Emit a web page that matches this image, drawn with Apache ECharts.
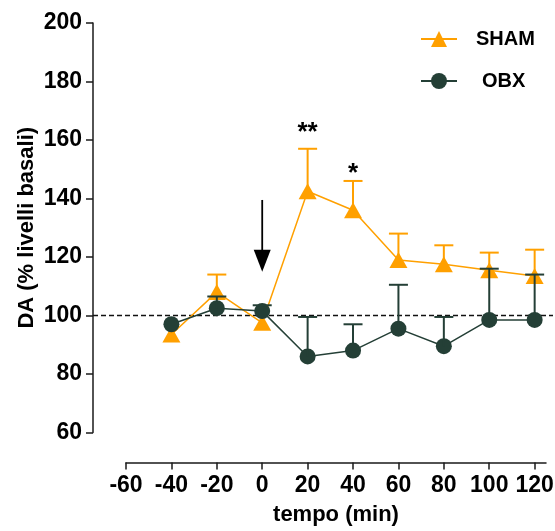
<!DOCTYPE html>
<html>
<head>
<meta charset="utf-8">
<script src="https://cdn.jsdelivr.net/npm/echarts@6/dist/echarts.min.js"></script>
<style>
  html, body { margin: 0; padding: 0; background: #fff; }
  #chart { width: 555px; height: 531px; }
</style>
</head>
<body>
<div id="chart"></div>
<script>
// Sampling times (min) relative to the injection
const timePoints = [-40, -20, 0, 20, 40, 60, 80, 100, 120];

// DA as % of basal levels: mean and SEM per group
const shamMean = [93.5, 108, 97.5, 142.5, 136, 119, 117.5, 115.5, 113.5];
const shamSem  = [0, 6, 0, 14.5, 10, 9, 6.5, 6, 9];
const obxMean  = [97, 102.5, 101.5, 86, 88, 95.5, 89.5, 98.5, 98.5];
const obxSem   = [0, 4, 2, 13.5, 9, 15, 10, 17.5, 15.5];

// Axis ticks
const xTicks = [-60, -40, -20, 0, 20, 40, 60, 80, 100, 120];
const yTicks = [60, 80, 100, 120, 140, 160, 180, 200];

// Basal reference level and injection arrow (time, start value, tip value)
const baseline = 100;
const injection = [[0, 139.5, 115]];

// Significance marks: time, value, text
const significance = [[20, 162.5, '**'], [40, 148.5, '*']];

const FONT = "'Liberation Sans', Arial, sans-serif";
const ORANGE = '#FFA000';
const GREEN = '#243F36';
const AXIS = '#1a1a1a';

function errorBars(name, means, sems, color, z) {
  return {
    type: 'custom',
    name: name,
    xAxisIndex: 0, yAxisIndex: 0,
    z: z,
    silent: true,
    data: timePoints.map((t, i) => [t, means[i], means[i] + sems[i]]),
    encode: { x: 0, y: [1, 2] },
    renderItem(params, api) {
      const lo = api.value(1), hi = api.value(2);
      if (!(hi > lo)) return null;
      const p0 = api.coord([api.value(0), lo]);
      const p1 = api.coord([api.value(0), hi]);
      const hw = 9.5;
      return {
        type: 'group',
        children: [
          { type: 'line', shape: { x1: p0[0], y1: p0[1], x2: p1[0], y2: p1[1] },
            style: { stroke: color, lineWidth: 2 } },
          { type: 'line', shape: { x1: p1[0] - hw, y1: p1[1], x2: p1[0] + hw, y2: p1[1] },
            style: { stroke: color, lineWidth: 2 } }
        ]
      };
    }
  };
}

const chart = echarts.init(document.getElementById('chart'), null, { renderer: 'canvas' });

chart.setOption({
  backgroundColor: '#fff',
  animation: false,
  grid: [
    { left: 126, right: 9, top: 23, bottom: 98.5, containLabel: false, outerBoundsMode: 'none' },
    { left: 93, right: 2, top: 23, bottom: 98.5, containLabel: false, outerBoundsMode: 'none' }
  ],
  legend: [
    {
      data: ['SHAM'], left: 420, top: 29, padding: 0,
      itemWidth: 36, itemHeight: 20,
      textStyle: { fontFamily: FONT, fontSize: 20, fontWeight: 'bold', color: '#000', padding: [0, 0, 0, 14] }
    },
    {
      data: ['OBX'], left: 420, top: 71, padding: 0,
      itemWidth: 36, itemHeight: 20,
      textStyle: { fontFamily: FONT, fontSize: 20, fontWeight: 'bold', color: '#000', padding: [0, 0, 0, 20] }
    }
  ],
  xAxis: [
    {
      type: 'value', gridIndex: 0, min: -60, max: 125, interval: 20, offset: 30,
      axisLine: { show: true, onZero: false, lineStyle: { color: AXIS, width: 1.5 } },
      axisTick: { show: true, length: 7, customValues: xTicks, lineStyle: { color: AXIS, width: 1.5 } },
      axisLabel: { customValues: xTicks, margin: 12, color: '#000', fontFamily: FONT, fontSize: 23, fontWeight: 'bold' },
      splitLine: { show: false },
      name: 'tempo (min)', nameLocation: 'middle', nameGap: 41, nameMoveOverlap: false,
      nameTextStyle: { fontFamily: FONT, fontSize: 22, fontWeight: 'bold', color: '#000' }
    },
    { type: 'value', gridIndex: 1, min: 0, max: 1, show: false }
  ],
  yAxis: [
    {
      type: 'value', gridIndex: 0, min: 60, max: 200, interval: 20, offset: 33,
      axisLine: { show: true, onZero: false, lineStyle: { color: AXIS, width: 1.5 } },
      axisTick: { show: true, length: 7, customValues: yTicks, lineStyle: { color: AXIS, width: 1.5 } },
      axisLabel: { customValues: yTicks, margin: 11, color: '#000', fontFamily: FONT, fontSize: 23, fontWeight: 'bold' },
      splitLine: { show: false },
      name: 'DA (% livelli basali)', nameLocation: 'middle', nameGap: 55, nameRotate: 90, nameMoveOverlap: false,
      nameTextStyle: { fontFamily: FONT, fontSize: 22, fontWeight: 'bold', color: '#000' }
    },
    { type: 'value', gridIndex: 1, min: 60, max: 200, show: false }
  ],
  series: [
    {
      name: 'baseline', type: 'line', xAxisIndex: 1, yAxisIndex: 1, z: 1, silent: true,
      data: [[0, baseline], [1, baseline]], symbol: 'none',
      lineStyle: { color: '#111', width: 1.5, type: [5, 3] }
    },
    {
      name: 'SHAM', type: 'line', xAxisIndex: 0, yAxisIndex: 0, z: 2,
      data: timePoints.map((t, i) => [t, shamMean[i]]),
      symbol: 'triangle', symbolSize: [18, 16],
      itemStyle: { color: ORANGE },
      lineStyle: { color: ORANGE, width: 1.5 }
    },
    errorBars('SHAM SEM', shamMean, shamSem, ORANGE, 3),
    {
      name: 'OBX', type: 'line', xAxisIndex: 0, yAxisIndex: 0, z: 4,
      data: timePoints.map((t, i) => [t, obxMean[i]]),
      symbol: 'circle', symbolSize: 16,
      itemStyle: { color: GREEN },
      lineStyle: { color: GREEN, width: 1.5 }
    },
    errorBars('OBX SEM', obxMean, obxSem, GREEN, 5),
    {
      name: 'injection', type: 'custom', xAxisIndex: 0, yAxisIndex: 0, z: 6, silent: true,
      data: injection,
      encode: { x: 0, y: [1, 2] },
      renderItem(params, api) {
        const top = api.coord([api.value(0), api.value(1)]);
        const tip = api.coord([api.value(0), api.value(2)]);
        const headLen = 22, headHalf = 8.5;
        return {
          type: 'group',
          children: [
            { type: 'line', shape: { x1: top[0], y1: top[1], x2: tip[0], y2: tip[1] - headLen + 2 },
              style: { stroke: '#000', lineWidth: 1.8 } },
            { type: 'polygon',
              shape: { points: [[tip[0] - headHalf, tip[1] - headLen], [tip[0] + headHalf, tip[1] - headLen], [tip[0], tip[1]]] },
              style: { fill: '#000' } }
          ]
        };
      }
    },
    {
      name: 'significance', type: 'custom', xAxisIndex: 0, yAxisIndex: 0, z: 6, silent: true,
      data: significance,
      encode: { x: 0, y: 1 },
      renderItem(params, api) {
        const p = api.coord([api.value(0), api.value(1)]);
        return {
          type: 'text', x: p[0], y: p[1],
          style: {
            text: significance[params.dataIndex][2],
            font: "bold 26px 'Liberation Sans', Arial, sans-serif",
            fill: '#000', align: 'center', verticalAlign: 'middle'
          }
        };
      }
    }
  ]
});
</script>
</body>
</html>
